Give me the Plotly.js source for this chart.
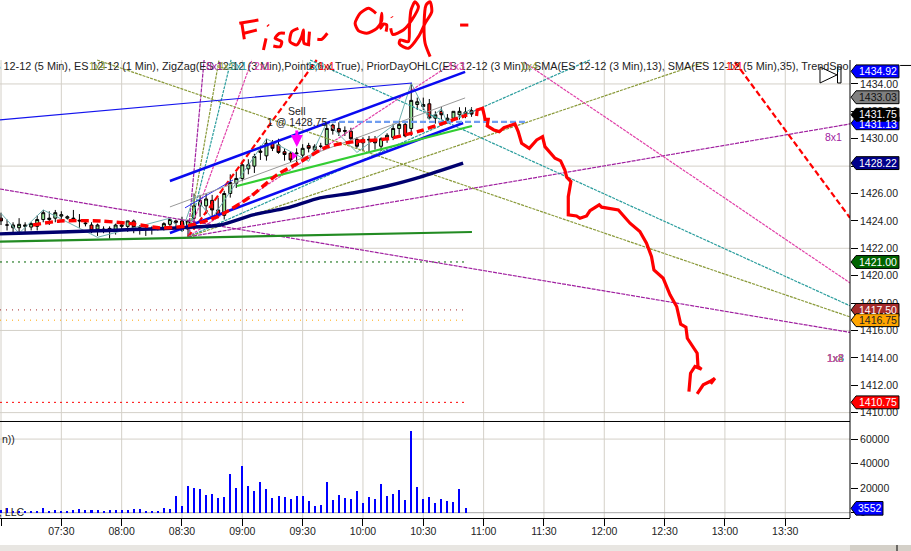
<!DOCTYPE html>
<html><head><meta charset="utf-8">
<script src="https://cdn.plot.ly/plotly-3.0.1.min.js"></script>
<style>html,body{margin:0;padding:0;background:#fff}#c{width:911px;height:551px}</style></head>
<body><div id="c"></div>
<script>
// x values are minutes after midnight, y values are index points
const barTimes=[420,423,426,429,432,435,438,441,444,447,450,453,456,459,462,465,468,471,474,477,480,483,486,489,492,495,498,501,504,507,510,513,516,519,522,525,528,531,534,537,540,543,546,549,552,555,558,561,564,567,570,573,576,579,582,585,588,591,594,597,600,603,606,609,612,615,618,621,624,627,630,633,636,639,642,645,648,651,654];
const opens=[1424.2,1423.7,1423.5,1423.5,1423.6,1423.55,1423.6,1424.1,1424.1,1424.2,1424.35,1424.2,1424.2,1424.05,1423.85,1423.7,1423.4,1423.4,1423.45,1423.3,1423.6,1423.6,1424.0,1423.5,1423.4,1423.4,1423.45,1423.5,1423.75,1424.0,1424.0,1423.4,1424.2,1425.1,1425.1,1425.5,1424.8,1424.4,1426.0,1426.75,1427.1,1427.8,1428.0,1429.0,1428.75,1429.67,1429.55,1429.05,1428.95,1428.9,1428.8,1429.5,1429.2,1429.45,1429.55,1431.0,1430.75,1430.6,1430.55,1429.95,1429.7,1429.9,1429.95,1429.45,1430.0,1430.1,1430.75,1431.05,1430.75,1432.5,1432.35,1432.55,1431.5,1432.0,1431.35,1431.5,1431.75,1431.8,1432.05];
const highs=[1424.6,1424.1,1423.9,1424.2,1423.9,1423.9,1424.4,1424.8,1424.7,1424.8,1424.7,1424.4,1424.8,1424.5,1424.1,1423.9,1423.8,1423.6,1423.6,1423.8,1423.9,1424.0,1424.1,1423.7,1423.6,1423.6,1423.6,1423.9,1424.2,1424.1,1424.3,1424.1,1426.0,1425.9,1426.0,1425.9,1425.7,1426.2,1427.4,1427.6,1428.4,1428.5,1428.9,1429.5,1430.0,1429.9,1430.0,1429.3,1429.1,1429.3,1429.6,1429.7,1429.6,1429.7,1431.2,1431.1,1431.2,1430.9,1430.8,1430.1,1430.1,1430.2,1430.2,1430.1,1430.4,1431.1,1431.3,1431.3,1434.07,1433.0,1433.0,1432.9,1432.0,1432.3,1431.8,1432.0,1432.3,1432.3,1432.3];
const lows=[1423.7,1423.3,1423.0,1423.0,1423.2,1423.3,1423.3,1423.9,1423.7,1423.9,1424.0,1424.1,1424.0,1423.5,1423.6,1423.1,1422.9,1423.1,1422.7,1423.0,1423.3,1423.2,1423.1,1423.0,1422.9,1423.0,1423.3,1423.3,1423.4,1423.3,1423.2,1422.9,1423.4,1424.3,1424.5,1424.2,1424.2,1424.1,1425.7,1426.4,1426.9,1427.4,1427.5,1428.45,1428.4,1429.1,1428.9,1428.4,1428.3,1428.3,1428.6,1429.0,1429.1,1429.3,1429.5,1430.3,1430.2,1430.2,1429.9,1429.3,1429.1,1429.0,1429.2,1429.1,1429.7,1429.9,1430.3,1430.1,1430.2,1432.1,1432.1,1431.4,1431.1,1431.4,1431.1,1431.3,1431.4,1431.5,1431.6];
const closes=[1424.0,1423.7,1423.7,1423.75,1423.7,1423.8,1424.1,1424.6,1424.2,1424.6,1424.45,1424.3,1424.15,1424.0,1423.8,1423.3,1423.7,1423.3,1423.3,1423.7,1423.7,1424.0,1423.5,1423.4,1423.4,1423.45,1423.5,1423.8,1424.1,1423.9,1423.3,1424.0,1425.1,1425.5,1425.6,1424.8,1424.4,1426.0,1426.8,1427.1,1428.1,1428.1,1428.7,1429.1,1429.67,1429.3,1429.0,1428.85,1428.45,1428.95,1429.3,1429.3,1429.45,1429.45,1430.75,1430.6,1430.5,1430.55,1430.0,1429.45,1429.95,1429.95,1429.7,1430.0,1430.25,1430.75,1431.05,1430.2,1432.8,1432.7,1432.5,1431.5,1431.75,1431.75,1431.5,1432.0,1432.0,1431.95,1431.8];

const volumes=[2200,3800,1000,1000,1000,1100,1100,3500,1400,1900,1400,1100,1900,2700,2200,2200,2200,1400,1900,1900,1900,1900,2700,2700,1600,1400,1400,3500,2700,13400,5200,21500,20200,19400,14500,15300,12000,12800,31600,20200,38200,21800,17700,25100,19400,12000,13600,12800,11200,13600,13600,9500,5500,6300,25100,10400,14500,12000,11200,17700,7900,12800,11200,23500,13600,15300,18500,10400,66800,21000,11200,12800,7900,11200,9500,8700,19400,3552];

const sma35Times=[419.5,509,528.9,545.3,562.2,578.6,595,612,628.4,649.8];
const sma35Values=[1423.05,1423.5,1423.7,1424.44,1424.95,1425.68,1426.04,1426.55,1427.2,1428.22];
const sma13Times=[435.9,449.4,469.3,485.7,499.1,512.5,527.4,543.8,557.2,568.7,582.1,595,612,628.4,651.8];
const sma13Values=[1423.7,1423.99,1423.99,1423.78,1423.49,1423.64,1424.29,1425.75,1427.36,1428.3,1429.4,1429.77,1429.99,1430.57,1431.74];
const zigzagTimes=[420,429,441,468,504,510,516,525,552,573,582,597,618,624,633,639,642,654];
const zigzagValues=[1424.55,1423.1,1424.8,1422.8,1424.2,1423.2,1425.8,1424.2,1430.0,1428.35,1431.2,1429.0,1431.3,1434.07,1431.4,1432.2,1431.1,1432.2];

const pivotTime=513, pivotPrice=1422.83;
const fanEndTimes=[521,528.4,534.4,544.8,577,643.3,712.9,770,842.2];
const fanEndPrices=[1435.75,1435.75,1435.75,1435.75,1435.75,1435.39,1435.75,1435.6,1431.08];
const fanColors=['#a020a0','#8a9a3a','#2a9d9d','#e040a8','#ff0000','#e040a8','#2a9d9d','#8a9a3a','#a020a0'];
const fallStartTimes=[467.8,573.7,680,419.5];
const fallStartPrices=[1435.75,1435.75,1435.6,1426.33];
const fallEndPrices=[1416.99,1417.8,1419.47,1415.86];
const fallColors=['#8a9a3a','#2a9d9d','#e040a8','#a020a0'];

const channelNames=['blueThin','blueUp','blueLow','blueShort','gray','lime','forest','cornflower','redFall'];
const channelT0=[419.5,504,504,511.5,504,537.4,419.5,583.6,785];
const channelP0=[1431.37,1426.92,1423.12,1424.95,1425.02,1426.55,1422.49,1431.23,1435.6];
const channelT1=[624.4,650.8,649.8,535.4,650.8,654.2,654.2,680.6,842.2];
const channelP1=[1434.07,1434.88,1431.15,1426.99,1432.98,1430.93,1423.19,1431.23,1424.22];
const channelColors=['#1414ee','#0a0af0','#0a0af0','#2a2af0','#9a9a9a','#32cd32','#228b22','#6f9df0','#ff0000'];
const channelWidths=[1.2,2.6,2.6,1,1,2.2,2.2,2.2,2.2];
const channelDash=['solid','solid','solid','solid','solid','solid','solid','6px,3px','6px,3px'];

const priorDayPrices=[1421,1417.5,1416.75,1410.75];
const priorDayColors=['#006400','#a52a2a','#ffa500','#ff0000'];
const priorDayDash=['2px,4px','1px,5px','1px,5px','2px,4px'];
const priorDayEnd=652, priorDayStart=419.5;

const forecastTimes=[656.5,656.8,659.5,660.3,660.7,662.3,661.8,665.1,667.8,670.1,675.6,677.2,678.9,682.7,686.4,689.3,690.5,695.5,698.3,700.4,701.3,703.4,702.1,702.1,706.2,707.9,711.2,712.9,717.5,718.7,727,732.8,737.7,741,743.5,744.7,749.3,752.7,756,758,760.6,761.3,766.2,766.6,768.4,765.1,762.9,762.1,null,766.2,769.2,772.5,775,772.9];
const forecastPrices=[1431.66,1432.1,1432.22,1431.73,1431.42,1431.42,1430.93,1430.64,1430.52,1430.81,1431.08,1430.52,1429.67,1429.3,1429.91,1430.15,1429.42,1428.57,1428.38,1427.72,1427.19,1426.87,1425.77,1424.44,1424.36,1424.19,1424.36,1424.75,1425.17,1425,1424.8,1423.83,1423.22,1422.37,1421.39,1420.42,1419.81,1418.6,1417.75,1416.46,1416.24,1415.43,1414.34,1413.37,1413.17,1413.37,1412.88,1411.54,null,1411.37,1412.03,1412.27,1412.51,1412.1];

const inkTimes=[538.5,548,null,539.7,541,null,540.9,547.2,null,552.6,553,null,551.8,550.5,null,561.2,558.4,556.3,559.6,558.8,555.4,null,567.9,564.6,563.7,567.1,569.5,570.4,570.7,573.7,null,573.4,572.9,null,577.3,579.5,582.3,null,606.5,602.7,598.6,596.1,597.7,601.9,606.9,609.3,609.3,608.8,610.2,611.8,611.5,null,614.3,614.5,null,613.8,614.8,620.1,624.3,627.6,625.9,623.9,623.1,622.6,618.5,618.1,622.6,627.6,630.9,634.2,633.4,631.4,630.4,630.9,633.4,null,648.3,652.4];
const inkPrices=[1438.43,1438.67,null,1438.48,1437.26,null,1437.7,1437.94,null,1438.3,1438.23,null,1437.33,1436.48,null,1437.7,1437.7,1437.33,1437.09,1436.72,1436.77,null,1438.06,1437.82,1437.09,1436.85,1437.45,1437.94,1436.97,1436.85,null,1437.82,1436.85,null,1437.26,1437.26,1437.7,null,1439.16,1439.52,1439.16,1438.43,1437.9,1437.7,1438.06,1438.62,1439.16,1438.06,1438.38,1438.31,1437.82,null,1438.91,1438.86,null,1438.06,1437.62,1437.94,1438.67,1439.64,1440,1439.4,1438.18,1437.09,1437.21,1436.92,1436.6,1437.45,1438.43,1439.28,1440,1439.77,1438.43,1436.97,1436,null,1438.3,1438.3];

const priceTicks=[1410,1412,1414,1416,1418,1420,1422,1424,1426,1428,1430,1432,1434];
const priceGrid=[1410,1416,1422,1428,1434];
const volumeTicks=[0,20000,40000,60000];
const volumeGrid=[0,60000];
const timeTicks=[420,450,480,510,540,570,600,630,660,690,720,750,780,810];
const timeLabels=['07:00','07:30','08:00','08:30','09:00','09:30','10:00','10:30','11:00','11:30','12:00','12:30','13:00','13:30'];

const tagPrices=[1434.92,1433.03,1431.13,1431.75,1428.22,1421,1417.5,1416.75,1410.75];
const tagFills=['#0000ff','#808080','#0000ff','#000000','#00008b','#006400','#a52a2a','#ffa500','#ff0000'];
const tagInk=['#ffffff','#111111','#ffffff','#ffffff','#ffffff','#ffffff','#ffffff','#222222','#ffffff'];
const tagTextShift=[0,0,-1,1,0,0,0,0,0];
const lastVolume=3552;

const titleLine='ES 12-12 (5 Min), ES 12-12 (1 Min), ZigZag(ES 12-12 (3 Min),Points,6,x,True), PriorDayOHLC(ES 12-12 (3 Min)), SMA(ES 12-12 (3 Min),13), SMA(ES 12-12 (5 Min),35), TrendSpo';
const fanLabelText=['1x4','8x1','4x1','3x1','2x1','1x2','1x1','1x3','1x4','1x1','8x1','1x8','1x4','1x3','1x2'];
const fanLabelTime=[468,526.4,531.9,537.9,549.8,576.6,582,646.7,683,785,834,835,835,835,835];
const fanLabelPrice=[1435.31,1435.31,1435.31,1435.31,1435.31,1435.31,1435.31,1435.31,1435.31,1435.31,1430.1,1414,1414,1414,1414];
const fanLabelColor=['#8a9a3a','#a020a0','#8a9a3a','#2a9d9d','#e040a8','#2a9d9d','#ff0000','#e040a8','#8a9a3a','#ff0000','#a020a0','#a020a0','#8a9a3a','#2a9d9d','#e040a8'];

const FONT='"Liberation Sans", Arial, sans-serif';
const traces=[];
traces.push({type:'bar',x:barTimes.slice(0,volumes.length),y:volumes,yaxis:'y2',width:1,marker:{color:'#0000ff',line:{width:0}},hoverinfo:'skip'});
traces.push({type:'candlestick',x:barTimes,open:opens,high:highs,low:lows,close:closes,
  increasing:{line:{color:'#000',width:1},fillcolor:'#98e898'},
  decreasing:{line:{color:'#000',width:1},fillcolor:'#ff1010'},whiskerwidth:0,hoverinfo:'skip'});
function seg(x,y,color,width,dash,lineShape){traces.push({type:'scatter',mode:'lines',x:x,y:y,line:{color:color,width:width,dash:dash||'solid',simplify:false,shape:lineShape||'linear',smoothing:0.7},hoverinfo:'skip'});}
priorDayPrices.forEach((p,i)=>seg([priorDayStart,priorDayEnd],[p,p],priorDayColors[i],1,priorDayDash[i]));
fanEndTimes.forEach((t,i)=>{
  const red=fanColors[i]==='#ff0000';
  seg([pivotTime,t],[pivotPrice,fanEndPrices[i]],fanColors[i],red?2.2:1.2,red?'6px,3px':(fanColors[i]==='#a020a0'?'4px,1px':'3px,1px'));
});
fallStartTimes.forEach((t,i)=>seg([t,842.2],[fallStartPrices[i],fallEndPrices[i]],fallColors[i],1.2,fallColors[i]==='#a020a0'?'4px,1px':'3px,1px'));
seg(zigzagTimes,zigzagValues,'#6fb0b0',1);
channelNames.forEach((n,i)=>seg([channelT0[i],channelT1[i]],[channelP0[i],channelP1[i]],channelColors[i],channelWidths[i],channelDash[i]));
seg(sma35Times,sma35Values,'#00006e',3.4,'solid','spline');
seg(sma13Times,sma13Values,'#ff0000',3.4,'8px,4px','spline');
seg(forecastTimes,forecastPrices,'#ff0000',3.2);
seg(inkTimes,inkPrices,'#ff0000',3,'solid','spline');
traces.push({type:'scatter',mode:'markers',x:[565.6],y:[1428.75],marker:{symbol:'triangle-right',size:7,color:'#ff00ff'},hoverinfo:'skip'});

const PANEL_TOP=0.8842, PANEL_SPLIT=0.1863, BAND_TOP=-0.0521, BAND_BOTTOM=-0.0637;
const shapes=[];
timeTicks.forEach(t=>shapes.push({type:'line',xref:'x',yref:'paper',x0:t,x1:t,y0:0,y1:PANEL_TOP,layer:'below',line:{color:'#d4d0c8',width:1}}));
priceGrid.forEach(p=>shapes.push({type:'line',xref:'paper',yref:'y',x0:0,x1:1,y0:p,y1:p,layer:'below',line:{color:'#d4d0c8',width:1}}));
volumeGrid.forEach(v=>shapes.push({type:'line',xref:'paper',yref:'y2',x0:0,x1:1,y0:v,y1:v,layer:'below',line:{color:v===0?'#a8a8a8':'#d4d0c8',width:1}}));
shapes.push({type:'line',xref:'paper',yref:'paper',x0:0,x1:1,y0:PANEL_SPLIT,y1:PANEL_SPLIT,line:{color:'#000',width:1}});
shapes.push({type:'line',xref:'paper',yref:'paper',x0:1,x1:1,y0:0,y1:PANEL_TOP,line:{color:'#000',width:1}});
const annotations=[];
const TAGX0=1.0012,TAGX1=1.0071,TAGX2=1.0576;
tagPrices.forEach((p,i)=>{
  const h=0.47;
  shapes.push({type:'path',xref:'paper',yref:'y',line:{color:'#000',width:1},fillcolor:tagFills[i],
    path:`M ${TAGX0} ${p} L ${TAGX1} ${p+h} L ${TAGX2} ${p+h} L ${TAGX2} ${p-h} L ${TAGX1} ${p-h} Z`});
  annotations.push({xref:'paper',yref:'y',x:1.0325,y:p,yshift:tagTextShift[i],text:p.toFixed(2),showarrow:false,xanchor:'center',yanchor:'middle',font:{family:FONT,size:10.5,color:tagInk[i]}});
});
const vh=5540;
shapes.push({type:'path',xref:'paper',yref:'y2',line:{color:'#000',width:1},fillcolor:'#0000ff',
  path:`M 1.0012 ${lastVolume} L 1.0071 ${lastVolume+vh} L 1.0388 ${lastVolume+vh} L 1.0388 ${lastVolume-vh} L 1.0071 ${lastVolume-vh} Z`});
annotations.push({xref:'paper',yref:'y2',x:1.0235,y:lastVolume,text:String(lastVolume),showarrow:false,xanchor:'center',yanchor:'middle',font:{family:FONT,size:10.5,color:'#fff'}});
// playback icon and window chrome
shapes.push({type:'path',xref:'paper',yref:'y',line:{color:'#000',width:1},fillcolor:'rgba(255,255,255,0.6)',path:'M 0.9647 1435.24 L 0.9847 1434.66 L 0.9647 1434.07 Z'});
shapes.push({type:'rect',xref:'paper',yref:'y',x0:0.9853,x1:0.9894,y0:1434.07,y1:1435.24,line:{color:'#000',width:1},fillcolor:'#fff'});
shapes.push({type:'line',xref:'paper',yref:'y',x0:1.059,x1:1.072,y0:1435.35,y1:1435.35,line:{color:'#000',width:1}});
shapes.push({type:'rect',xref:'paper',yref:'paper',x0:0,x1:1,y0:BAND_BOTTOM,y1:BAND_TOP,line:{width:0},fillcolor:'#e8e6e2'});
shapes.push({type:'rect',xref:'paper',yref:'paper',x0:1,x1:1.072,y0:BAND_BOTTOM,y1:BAND_TOP,line:{width:0},fillcolor:'#d4d0c8'});
shapes.push({type:'line',xref:'paper',yref:'paper',x0:1.0553,x1:1.0553,y0:BAND_BOTTOM,y1:BAND_TOP,line:{color:'#000',width:1}});

annotations.push({xref:'paper',yref:'paper',x:-0.0185,y:0.8726,text:titleLine,showarrow:false,xanchor:'left',yanchor:'middle',font:{family:FONT,size:10.85,color:'#222'}});
fanLabelText.forEach((s,i)=>annotations.push({x:fanLabelTime[i],y:fanLabelPrice[i],text:s,showarrow:false,font:{family:FONT,size:10.5,color:fanLabelColor[i]}}));
annotations.push({x:567.1,y:1432.0,text:'Sell',showarrow:false,font:{family:FONT,size:10.5,color:'#222'}});
annotations.push({x:567.1,y:1431.2,text:'1 @ 1428.75',showarrow:false,font:{family:FONT,size:10.5,color:'#222'}});
annotations.push({x:567.1,y:1429.4,ax:0,ay:-18,text:'',showarrow:true,arrowcolor:'#ff00ff',arrowwidth:3,arrowhead:2,arrowsize:0.8});
annotations.push({xref:'paper',yref:'y2',x:0.0200,y:60000,text:'n))',showarrow:false,xanchor:'right',font:{family:FONT,size:10.5,color:'#222'}});
annotations.push({xref:'paper',yref:'y2',x:0.0318,y:800,text:', LLC',showarrow:false,xanchor:'right',font:{family:FONT,size:10.5,color:'#222'}});

const layout={width:911,height:551,margin:{l:0,r:61,t:0,b:33},paper_bgcolor:'#fff',plot_bgcolor:'rgba(0,0,0,0)',showlegend:false,bargap:0,dragmode:false,
  xaxis:{type:'linear',range:[419.5,842.2],anchor:'y2',rangeslider:{visible:false},tickmode:'array',tickvals:timeTicks,ticktext:timeLabels,showgrid:false,zeroline:false,showline:true,linecolor:'#000',linewidth:1,ticks:'outside',ticklen:7,tickcolor:'#000',ticklabelstandoff:-4,tickfont:{family:FONT,size:10.5,color:'#222'}},
  yaxis:{domain:[0.1873,1],range:[1409.39,1440.13],side:'right',anchor:'x',tickmode:'array',tickvals:priceTicks,ticktext:priceTicks.map(v=>v.toFixed(2)),showgrid:false,zeroline:false,showline:false,ticks:'outside',ticklen:7,tickcolor:'#000',tickfont:{family:FONT,size:10.5,color:'#222'}},
  yaxis2:{domain:[0,0.1873],range:[-4320,74750],side:'right',anchor:'x',tickmode:'array',tickvals:volumeTicks,ticktext:volumeTicks.map(String),showgrid:false,zeroline:false,showline:false,ticks:'outside',ticklen:7,tickcolor:'#000',tickfont:{family:FONT,size:10.5,color:'#222'}},
  shapes:shapes,annotations:annotations};
Plotly.newPlot('c',traces,layout,{displayModeBar:false,responsive:false,staticPlot:true});
</script></body></html>
